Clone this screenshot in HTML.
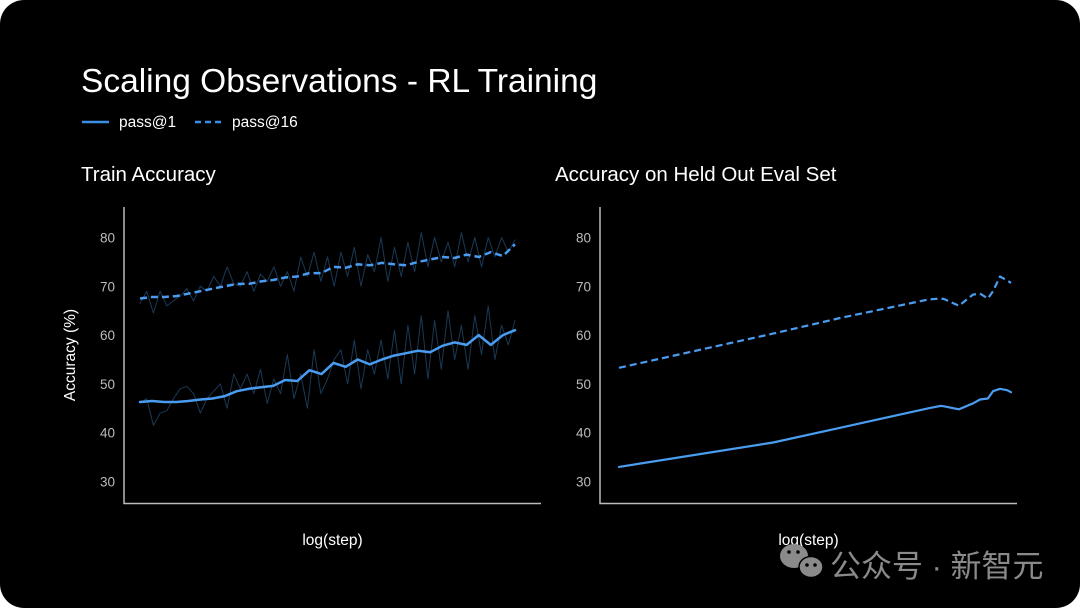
<!DOCTYPE html>
<html><head><meta charset="utf-8"><style>
html,body{margin:0;padding:0;background:#fff;}
#card{position:absolute;left:0;top:0;width:1080px;height:608px;background:#000;border-radius:24px;overflow:hidden;font-family:"Liberation Sans","Noto Sans CJK SC",sans-serif;}
svg text{font-family:"Liberation Sans","Noto Sans CJK SC",sans-serif;}
</style></head><body>
<div id="card">
<svg id="chart" width="1080" height="608"></svg>
</div>
<script>
// Left chart: Train Accuracy (smoothed)
const trainP1 = [46.3,46.5,46.3,46.3,46.5,46.8,47,47.5,48.5,49,49.3,49.6,50.8,50.6,52.8,52,54.3,53.5,55,54,55,55.8,56.3,56.8,56.5,57.8,58.5,58,60,58,60,61];
const trainP16 = [67.5,67.8,67.8,68,68.5,69,69.5,70,70.5,70.5,71,71.3,71.8,72,72.7,72.7,74,73.8,74.5,74.3,74.8,74.5,74.3,75,75.5,76,75.8,76.5,76,77,76.2,78.6];
// Left chart: raw noisy values
const rawP1 = [46,47,41.5,44,44.5,47,49,49.5,48,44,47,48.5,50,45,52,49,52,48,53,46,51,48,56,47,52,45,57,48,51,55,57,50,59,49,57,52,59,51,61,50,62,52,64,51,63,53,65,55,62,53,64,56,66,55,62,58,63];
const rawP16 = [66.5,69,64.5,69,66,67,68,69.5,67,70,69,72,70,74,70.5,70,73,69,72.5,71,74,70,73,69,76,72,77,71,76,70,77,72,78,70,76.5,73,80,71,78,72,79,73,81,74,80,75,79,74,81,75,80,74,80,76,80,77,79.5];
const ticks = [30,40,50,60,70,80];
// Right chart: Held Out Eval (x as fraction of log-step range)
const evalX = [0,0.393,0.564,0.789,0.82,0.829,0.867,0.903,0.921,0.941,0.954,0.972,0.99,1];
const evalP1 = [33,38,41,45,45.5,45.4,44.8,46,46.8,47,48.5,49,48.7,48.3];
const evalP16 = [53.3,60.3,63.5,67.3,67.5,67.4,66,68.3,68.5,67.5,69,72,71.2,70.7];

const NS='http://www.w3.org/2000/svg';
const svg=document.getElementById('chart');
function mk(tag,attrs,parent){const e=document.createElementNS(NS,tag);for(const k in attrs)e.setAttribute(k,attrs[k]);(parent||svg).appendChild(e);return e;}
function txt(x,y,s,size,fill,anchor,name,extra){const t=mk('text',Object.assign({x:x,y:y,'font-size':size,fill:fill,'text-anchor':anchor||'start'},extra||{}));t.textContent=s;


return t;}
const yS=v=>481.5-(v-30)*4.88;

txt(81,92,'Scaling Observations - RL Training',33.5,'#fff','start','chart-title');
// legend
let l1=mk('line',{x1:82,y1:122,x2:109,y2:122,stroke:'#3b8fe6','stroke-width':2.5});


txt(119,127,'pass@1',15.5,'#fff','start','legend-pass1-label');
let l2=mk('line',{x1:195,y1:122,x2:223,y2:122,stroke:'#3b8fe6','stroke-width':2.5,'stroke-dasharray':'6,4'});


txt(232,127,'pass@16',15.5,'#fff','start','legend-pass16-label');

function panel(x0,x1,dx0,dx1,title,prefix,tx){
  txt(tx,181,title,20.5,'#fff','start',prefix+'-title');
  const ax=mk('path',{d:`M${x0} 207 L${x0} 503.5 L${x1} 503.5`,stroke:'#bbb','stroke-width':1.5,fill:'none'});
  
  
  ticks.forEach(t=>txt(x0-9,yS(t)+5,String(t),13.5,'#bbb','end',prefix+'-tick-'+t));
  txt((x0+x1)/2,545,'log(step)',15.5,'#fff','middle',prefix+'-x-axis-title');
  return v=>dx0+v*(dx1-dx0);
}
const xL=panel(124,541,140,515,'Train Accuracy','train',81);
const xR=panel(600,1017,619,1011,'Accuracy on Held Out Eval Set','eval',555);
const yt=txt(75,355,'Accuracy (%)',15.5,'#fff','middle','y-axis-title',{transform:'rotate(-90 75 355)'});

function line(xs,ys,name,opts){
  const d=ys.map((v,i)=>(i?'L':'M')+xs(i).toFixed(1)+' '+yS(v).toFixed(1)).join(' ');
  const p=mk('path',Object.assign({d:d,fill:'none','stroke-linejoin':'round','stroke-linecap':'round'},opts));
  
  
}
line(i=>xL(i/(rawP1.length-1)),rawP1,'train-pass1-raw',{stroke:'#2b5f8f','stroke-width':1,opacity:0.6});
line(i=>xL(i/(rawP16.length-1)),rawP16,'train-pass16-raw',{stroke:'#2b5f8f','stroke-width':1,opacity:0.6});
line(i=>xL(i/(trainP1.length-1)),trainP1,'train-pass1-line',{stroke:'#4a9cf0','stroke-width':2.5});
line(i=>xL(i/(trainP16.length-1)),trainP16,'train-pass16-line',{stroke:'#4a9cf0','stroke-width':2.5,'stroke-dasharray':'7,4','stroke-linecap':'butt'});
line(i=>xR(evalX[i]),evalP1,'eval-pass1-line',{stroke:'#4a9cf0','stroke-width':2.2});
line(i=>xR(evalX[i]),evalP16,'eval-pass16-line',{stroke:'#4a9cf0','stroke-width':2.2,'stroke-dasharray':'7,4','stroke-linecap':'butt'});

// watermark
const g=mk('g',{});


mk('ellipse',{cx:794,cy:556,rx:14,ry:12,fill:'#8a8a8a'},g);
mk('ellipse',{cx:811,cy:567,rx:12,ry:10.5,fill:'#8a8a8a',stroke:'#000','stroke-width':1.5},g);
[[789,552],[798,552],[807,565],[815,565]].forEach(p=>mk('circle',{cx:p[0],cy:p[1],r:1.8,fill:'#000'},g));
txt(830,577,'公众号 · 新智元',31,'#8a8a8a','start','watermark-text');
</script>
</body></html>
